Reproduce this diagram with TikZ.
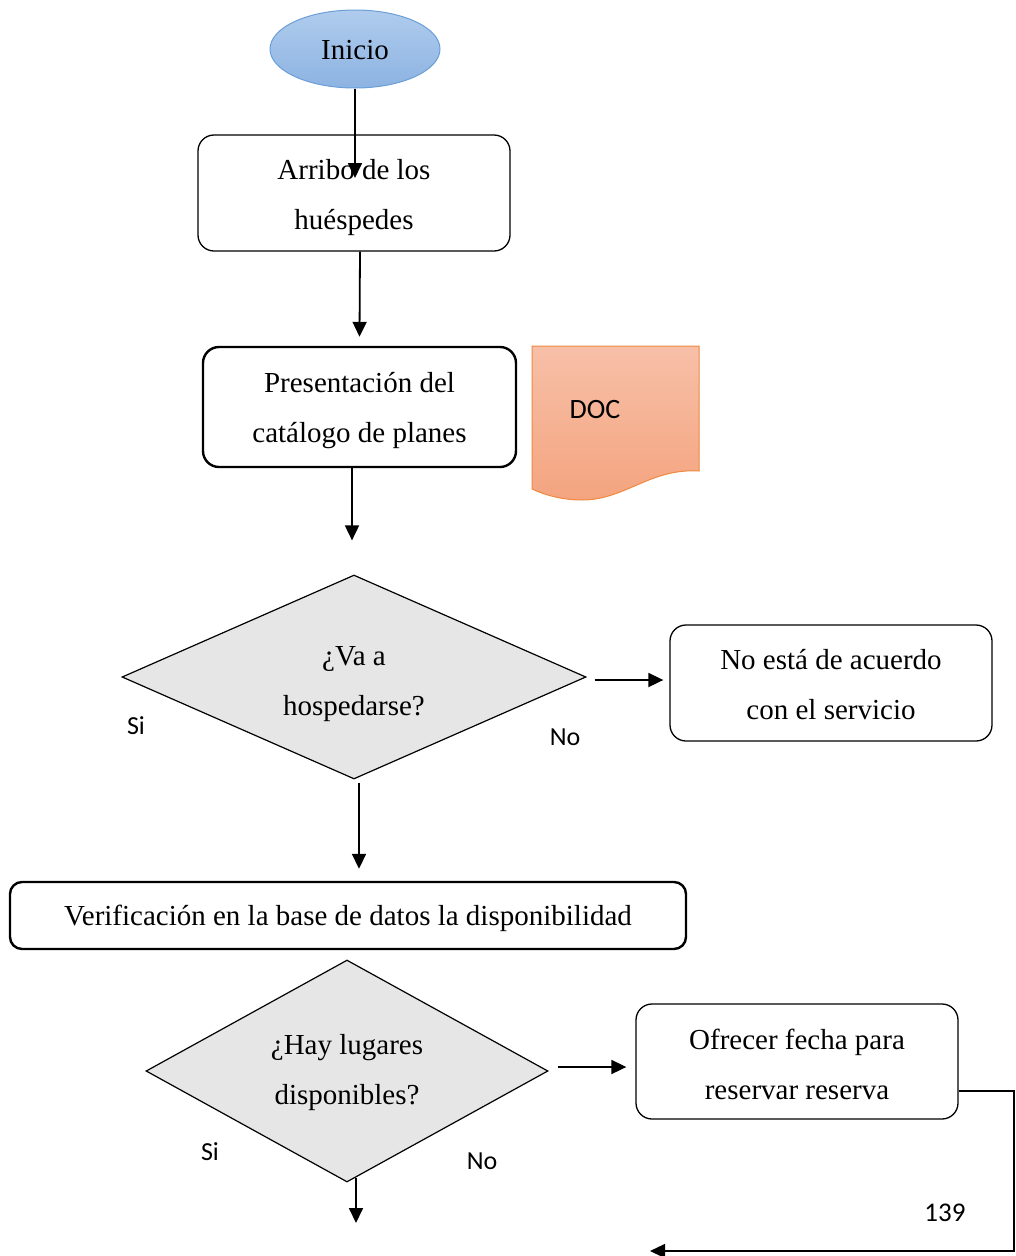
\documentclass[tikz,border=0pt]{standalone}
\usepackage{fontspec}
\setmainfont{Liberation Serif}
\newfontfamily\calib{Carlito}
\usetikzlibrary{shapes.geometric,arrows.meta,calc}
\definecolor{iniciotop}{HTML}{AFCCED}
\definecolor{iniciobot}{HTML}{8DB3E2}
\definecolor{inicioline}{HTML}{6A9FD8}
\definecolor{doctop}{HTML}{F7C0A8}
\definecolor{docbot}{HTML}{F4A47F}
\definecolor{docline}{HTML}{F0893F}
\definecolor{diafill}{HTML}{E6E6E6}
\begin{document}
\begin{tikzpicture}[x=1pt,y=-1pt,
  txt/.style={font=\fontsize{29}{50}\selectfont, align=center, inner sep=0pt},
  procbox/.style={draw=black, line width=1.3pt, rounded corners=16pt, inner sep=0pt},
  thickbox/.style={procbox, line width=2.4pt},
  decision/.style={diamond, draw=black, line width=1.2pt, fill=diafill, inner sep=0pt},
  lbl/.style={font=\calib\fontsize{26}{30}\selectfont, inner sep=0pt},
  arr/.style={line width=1.8pt, -{Triangle[length=15pt,width=14pt]}},
  thinarr/.style={line width=1.3pt, -{Triangle[length=15pt,width=14pt]}}
]
\useasboundingbox (0,0) rectangle (1015,1256);
\fill[white] (0,0) rectangle (1015,1256);

% Inicio
\node[ellipse, minimum width=170pt, minimum height=78pt, inner sep=0pt,
  top color=iniciotop, bottom color=iniciobot, draw=inicioline, line width=1pt] (inicio) at (355,49) {};
\node[txt] (inicio-t) at (355,50) {Inicio};

% Arribo
\node[procbox, minimum width=312pt, minimum height=116pt] (arribo) at (354,193) {};
\node[txt] (arribo-t) at (354,198) {Arribo de los\\huéspedes};

% Presentacion
\node[thickbox, minimum width=313pt, minimum height=120pt] (presentacion) at (359.5,407) {};
\node[txt] (presentacion-t) at (359.5,411) {Presentación del\\catálogo de planes};

% DOC
\shade[top color=doctop, bottom color=docbot]
  (532,346) -- (699,346) -- (699,471)
  .. controls (650,468) and (625,500) .. (582,500)
  .. controls (562,500) and (545,495) .. (532,489) -- cycle;
\draw[docline, line width=1pt]
  (532,346) -- (699,346) -- (699,471)
  .. controls (650,468) and (625,500) .. (582,500)
  .. controls (562,500) and (545,495) .. (532,489) -- cycle;
\node[lbl, font=\calib\fontsize{28}{30}\selectfont] (doc) at (595,410) {DOC};

% Decision 1
\node[decision, minimum width=464pt, minimum height=204pt] (d1) at (354,677) {};
\node[txt] (d1-t) at (354,684) {¿Va a\\hospedarse?};
\node[lbl] (si1) at (136,726) {Si};
\node[lbl] (no1) at (565,737) {No};

% No esta
\node[procbox, minimum width=322pt, minimum height=116pt] (noesta) at (831,683) {};
\node[txt] (noesta-t) at (831,685) {No está de acuerdo\\con el servicio};

% Verificacion
\node[thickbox, rounded corners=12pt, minimum width=676pt, minimum height=67pt] (verif) at (348,915.5) {};
\node[txt] (verif-t) at (348,918.5) {Verificación en la base de datos la disponibilidad};

% Decision 2
\node[decision, minimum width=402pt, minimum height=222pt] (d2) at (347,1071) {};
\node[txt] (d2-t) at (347,1073) {¿Hay lugares\\disponibles?};
\node[lbl] (si2) at (210,1152) {Si};
\node[lbl] (no2) at (482,1161) {No};

% Ofrecer
\node[procbox, minimum width=322pt, minimum height=115pt] (ofrecer) at (797,1061.5) {};
\node[txt] (ofrecer-t) at (797,1064) {Ofrecer fecha para\\reservar reserva};

\node[lbl, font=\calib\fontsize{27}{30}\selectfont] (pag) at (945,1213) {139};

\coordinate (loopend) at (650,1251);
\coordinate (d2out) at (356,1223);

% connectors
\draw[arr, shorten >=15pt] (inicio.south) -- (inicio.south |- arribo.center);
\draw[arr] ([xshift=6pt]arribo.south) -- ([yshift=9pt]presentacion.north);
\draw[arr] ([xshift=-7.5pt]presentacion.south) -- ([xshift=-2pt,yshift=34pt]d1.north);
\draw[arr] ([xshift=8pt,yshift=-3pt]d1.east) -- ([xshift=-6pt,yshift=3pt]noesta.west);
\draw[arr] ([xshift=5pt,yshift=-3pt]d1.south) -- ([xshift=11pt,yshift=12pt]verif.north);
\draw[arr] ([xshift=9pt,yshift=4pt]d2.east) -- ([xshift=-9pt,yshift=-5.5pt]ofrecer.west);
\draw[arr] ([xshift=9pt,yshift=5pt]d2.south) -- (d2out);
\draw[thinarr] ([yshift=-29.5pt]ofrecer.east) -| ($(loopend)+(364,0)$) -- (loopend);
\end{tikzpicture}
\end{document}
